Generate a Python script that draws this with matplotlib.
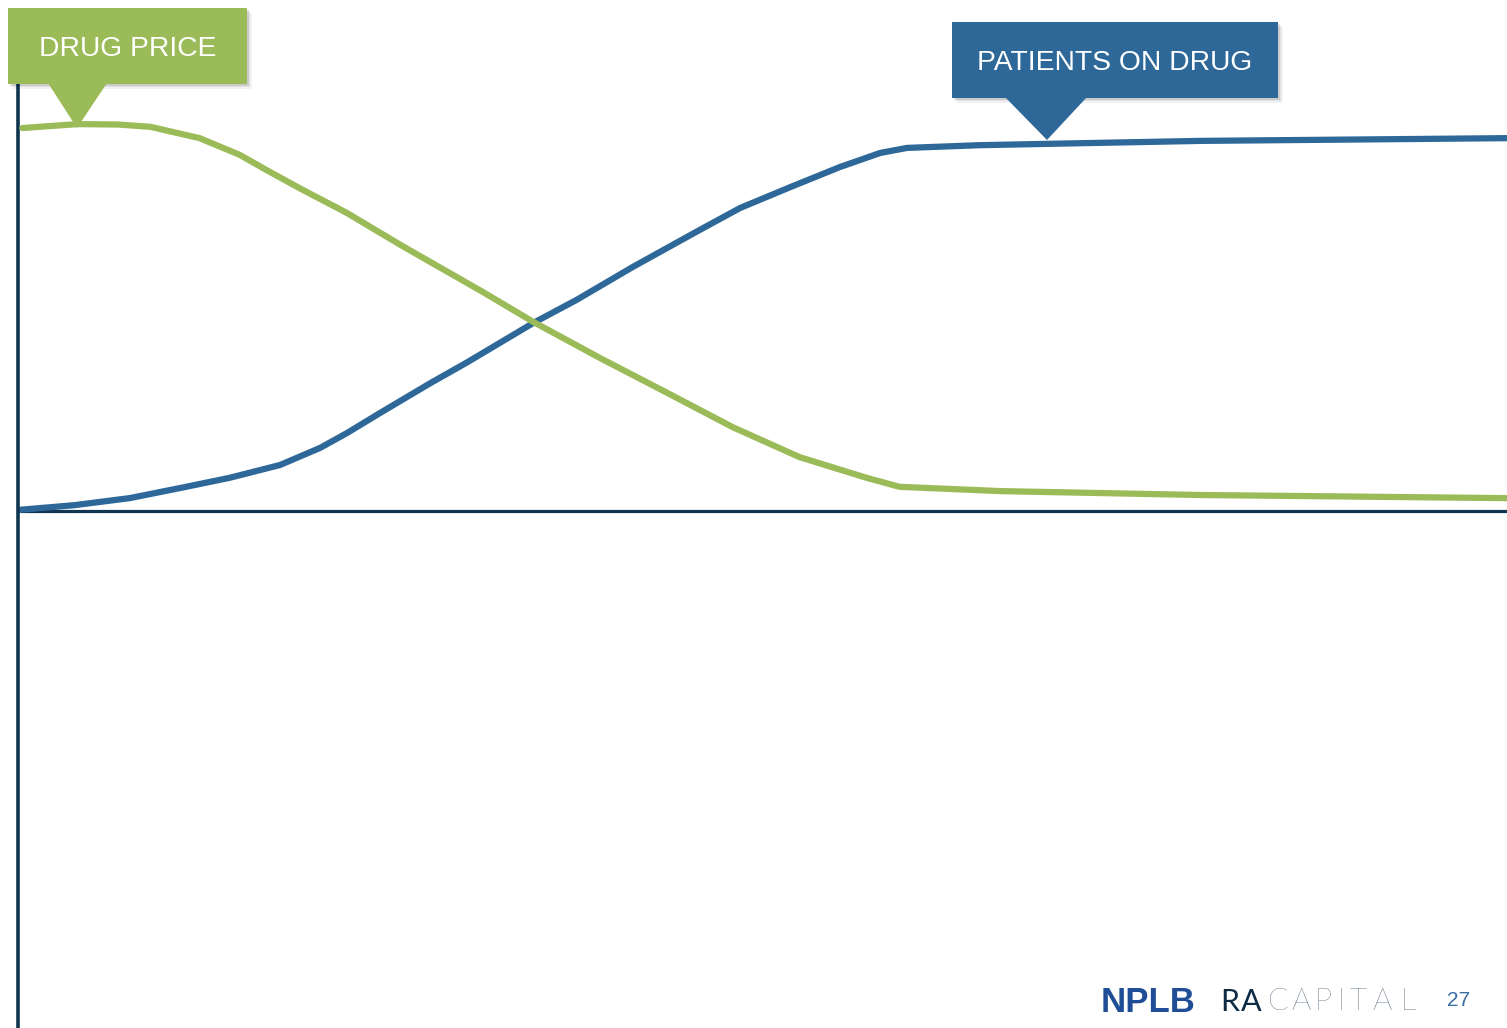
import matplotlib.pyplot as plt
from matplotlib.patches import Polygon, Rectangle

plt.rcParams["font.family"] = ["Liberation Sans", "DejaVu Sans"]

# time axis (share of the horizon, %) and relative levels
price_x = [0.3, 4.0, 6.7, 8.9, 12.2, 14.9, 16.7, 18.9, 22.1, 25.7, 31.2, 34.6, 39.1,
           43.6, 48.0, 52.5, 57.0, 59.2, 66.0, 79.4, 100.0]
price_y = [98.2, 99.2, 99.1, 98.5, 95.6, 91.3, 87.4, 82.8, 76.4, 68.2, 56.2, 48.5, 39.2,
           30.3, 21.5, 13.8, 8.5, 6.2, 5.1, 4.1, 3.3]

patients_x = [0.1, 3.8, 7.5, 10.9, 14.2, 17.6, 20.3, 22.1, 24.3, 27.7, 30.2, 34.6, 37.5,
              41.3, 45.8, 48.5, 51.9, 55.2, 57.9, 59.7, 64.6, 79.4, 100.0]
patients_y = [0.3, 1.5, 3.3, 5.9, 8.5, 11.8, 16.2, 20.0, 25.1, 32.8, 38.2, 48.2, 54.1,
              62.6, 72.1, 77.7, 83.1, 88.2, 91.8, 93.1, 93.8, 94.9, 95.6]

price_label = "DRUG PRICE"
patients_label = "PATIENTS ON DRUG"
page_no = "27"

green = "#9BBB59"
blue = "#2E6899"
navy = "#0F3550"

W, H = 1507, 1028
fig = plt.figure(figsize=(W / 100, H / 100), dpi=100)

# main chart axes: left edge at x=18px, top at y=85px
ax = fig.add_axes([18 / W, 0, 1 - 18 / W, (H - 85) / H])
ax.set_xlim(0, 100)
ax.set_ylim(-(1028 - 511) / 3.9, (511 - 85) / 3.9)
for s in ["top", "right", "bottom"]:
    ax.spines[s].set_visible(False)
ax.spines["left"].set_color(navy)
ax.spines["left"].set_linewidth(2.6)
ax.set_xticks([])
ax.set_yticks([])
ax.axhline(0, color=navy, lw=2.3, zorder=1)

ax.plot(price_x, price_y, color=green, lw=4.5, solid_capstyle="round", solid_joinstyle="round", zorder=3)
ax.plot(patients_x, patients_y, color=blue, lw=4.5, solid_capstyle="round", solid_joinstyle="round", zorder=2)

# overlay in pixel coords for callouts and footer
ov = fig.add_axes([0, 0, 1, 1], facecolor="none")
ov.set_xlim(0, W)
ov.set_ylim(H, 0)
ov.axis("off")


def callout(x0, x1, y0, y1, b0, b1, tip, color, text, ty):
    # soft shadow
    for d, a in [(5, 0.05), (3, 0.07), (1.5, 0.09)]:
        ov.add_patch(Rectangle((x0 + d, y0 + d), x1 - x0, y1 - y0, color="black", alpha=a, lw=0, zorder=4))
    ov.add_patch(Rectangle((x0, y0), x1 - x0, y1 - y0, color=color, lw=0, zorder=5))
    ov.add_patch(Polygon([(b0, y1 - 1), (b1, y1 - 1), tip], closed=True, color=color, lw=0, zorder=5))
    ov.text((x0 + x1) / 2, ty, text, color="white", fontsize=20.3,
            ha="center", va="center", zorder=6)


callout(8, 247, 8, 84, 48, 107, (77, 128), green, price_label, 49.5)
callout(952, 1278, 22, 98, 1005, 1087, (1047, 140), blue, patients_label, 62.5)

# footer
ov.text(1101, 1002, "NPLB", color="#1F4E96", fontsize=25, fontweight="bold",
        ha="left", va="center", family=["Liberation Sans Narrow", "Liberation Sans"])
logo = "RACAPITAL"
logo_x = [1230, 1251, 1278, 1301, 1323, 1341, 1358, 1382, 1408]
for i, (ch, lx) in enumerate(zip(logo, logo_x)):
    ov.text(lx, 1002, ch, color="#0D2B45" if i < 2 else "#1C3A55", fontsize=22,
            fontweight="normal" if i < 2 else "light", ha="center", va="center",
            family=["Lato", "Liberation Sans"])
ov.text(1459, 1001, page_no, color="#3A6EA5", fontsize=15, ha="center", va="center")

fig.savefig("out.png", dpi=100)
